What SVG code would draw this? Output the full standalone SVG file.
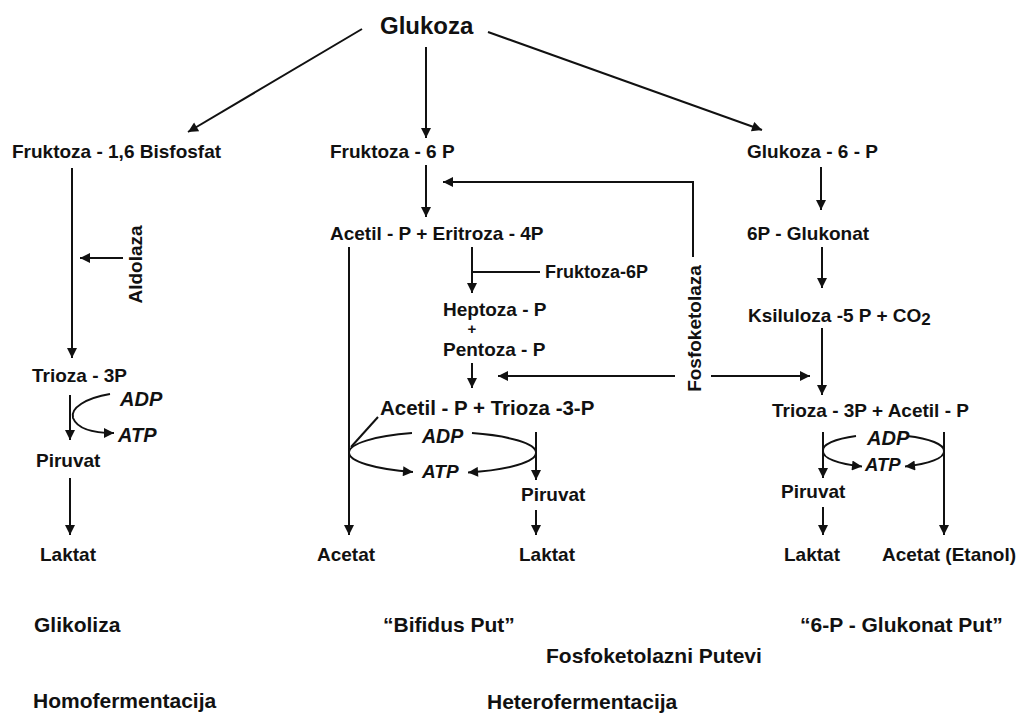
<svg xmlns="http://www.w3.org/2000/svg" width="1021" height="715" viewBox="0 0 1021 715">
<style>
text{font-family:"Liberation Sans",Arial,sans-serif;font-weight:bold;fill:#111;font-size:19px}
.big{font-size:24px}
.lab{font-size:21px}
.it{font-style:italic;font-size:20px}
.c{fill:none;stroke:#111;stroke-width:2}
.a{marker-end:url(#ah)}
</style>
<defs>
<marker id="ah" viewBox="0 0 10 10" refX="10" refY="5" markerWidth="11" markerHeight="10" markerUnits="userSpaceOnUse" orient="auto"><path d="M0,0 L10,5 L0,10 z" fill="#111"/></marker>
</defs>
<rect width="1021" height="715" fill="#fff"/>
<g id="connectors">
<path class="c a" d="M362,29 L188,132"/>
<path class="c a" d="M426,47 L426,138"/>
<path class="c a" d="M488,32 L762,130"/>
<path class="c a" d="M72,168 L72,358"/>
<path class="c a" d="M123,258 L80,258"/>
<path class="c a" d="M70,395 L70,440"/>
<path class="c a" d="M110,394 C86,398 70,408 73,418 C77,428 92,433 114,433"/>
<path class="c a" d="M70,478 L70,535"/>
<path class="c a" d="M426,165 L426,217"/>
<path class="c a" d="M693,257 L693,182 L443,182"/>
<path class="c a" d="M675,376 L498,376"/>
<path class="c a" d="M711,376 L810,376"/>
<path class="c a" d="M349,247 L349,535"/>
<path class="c a" d="M472,247 L472,293"/>
<path class="c" d="M472,272 L540,272"/>
<path class="c a" d="M472,363 L472,388"/>
<path class="c" d="M378,417 L351,447"/>
<path class="c" d="M349,452.5 A93.5,20.5 0 0 1 412,433.1"/>
<path class="c" d="M472,433.1 A93.5,20.5 0 0 1 536,452.5"/>
<path class="c a" d="M349,452.5 A93.5,20.5 0 0 0 413,472"/>
<path class="c a" d="M536,452.5 A93.5,20.5 0 0 1 468,472.5"/>
<path class="c a" d="M536,432 L536,480"/>
<path class="c a" d="M536,510 L536,535"/>
<path class="c a" d="M821,167 L821,210"/>
<path class="c a" d="M822,247 L822,288"/>
<path class="c a" d="M822,328 L822,395"/>
<path class="c a" d="M823,432 L823,478"/>
<path class="c a" d="M944,432 L944,535"/>
<path class="c" d="M823,451 A60.5,16 0 0 1 856,436"/>
<path class="c" d="M907,436 A60.5,16 0 0 1 944,451"/>
<path class="c a" d="M823,451 A60.5,16 0 0 0 862,466.5"/>
<path class="c a" d="M944,451 A60.5,16 0 0 1 905,466.5"/>
<path class="c a" d="M823,507 L823,535"/>
</g>
<g id="n-glukoza"><text class="big" x="380" y="34">Glukoza</text></g>
<g id="n-f16bp"><text x="12" y="158">Fruktoza - 1,6 Bisfosfat</text></g>
<g id="n-f6p"><text x="330" y="158">Fruktoza - 6 P</text></g>
<g id="n-g6p"><text x="747" y="158">Glukoza - 6 - P</text></g>
<g id="n-acetil-eritroza"><text x="330" y="240">Acetil - P + Eritroza - 4P</text></g>
<g id="n-6pglukonat"><text x="747" y="240">6P - Glukonat</text></g>
<g id="n-fruktoza6p"><text x="545" y="278" style="font-size:18px">Fruktoza-6P</text></g>
<g id="n-aldolaza"><text transform="translate(142,264.5) rotate(-90)" text-anchor="middle">Aldolaza</text></g>
<g id="n-fosfoketolaza"><text transform="translate(701,328.5) rotate(-90)" text-anchor="middle">Fosfoketolaza</text></g>
<g id="n-heptoza"><text x="443" y="316">Heptoza - P</text><text x="472" y="334" text-anchor="middle" style="font-size:15px">+</text><text x="443" y="356">Pentoza - P</text></g>
<g id="n-ksiluloza"><text x="748" y="322">Ksiluloza -5 P + CO<tspan dy="3" style="font-size:17px">2</tspan></text></g>
<g id="n-trioza-left"><text x="32" y="382">Trioza - 3P</text></g>
<g id="n-adp-left"><text class="it" x="120" y="406">ADP</text></g>
<g id="n-atp-left"><text class="it" x="118" y="442">ATP</text></g>
<g id="n-piruvat-left"><text x="36" y="467">Piruvat</text></g>
<g id="n-acetil-trioza"><text x="380" y="415" style="font-size:20.5px">Acetil - P + Trioza -3-P</text></g>
<g id="n-trioza-acetil"><text x="772" y="417">Trioza - 3P + Acetil - P</text></g>
<g id="n-adp-mid"><text class="it" x="422" y="443" style="font-size:19.5px">ADP</text></g>
<g id="n-atp-mid"><text class="it" x="422" y="478" style="font-size:19px">ATP</text></g>
<g id="n-adp-right"><text class="it" x="867" y="445">ADP</text></g>
<g id="n-atp-right"><text class="it" x="865" y="471" style="font-size:18.5px">ATP</text></g>
<g id="n-piruvat-mid"><text x="521" y="501">Piruvat</text></g>
<g id="n-piruvat-right"><text x="781" y="498">Piruvat</text></g>
<g id="n-laktat-left"><text x="40" y="561">Laktat</text></g>
<g id="n-acetat-mid"><text x="317" y="561">Acetat</text></g>
<g id="n-laktat-mid"><text x="519" y="561">Laktat</text></g>
<g id="n-laktat-right"><text x="784" y="561">Laktat</text></g>
<g id="n-acetat-etanol"><text x="882" y="561">Acetat (Etanol)</text></g>
<g id="n-glikoliza"><text class="lab" x="34" y="632">Glikoliza</text></g>
<g id="n-bifidus"><text class="lab" x="383" y="632">“Bifidus Put”</text></g>
<g id="n-6pglukonat-put"><text class="lab" x="800" y="632">“6-P - Glukonat Put”</text></g>
<g id="n-fosfoketolazni"><text class="lab" x="546" y="663">Fosfoketolazni Putevi</text></g>
<g id="n-homo"><text class="lab" x="33" y="708">Homofermentacija</text></g>
<g id="n-hetero"><text class="lab" x="487" y="709">Heterofermentacija</text></g>
</svg>
